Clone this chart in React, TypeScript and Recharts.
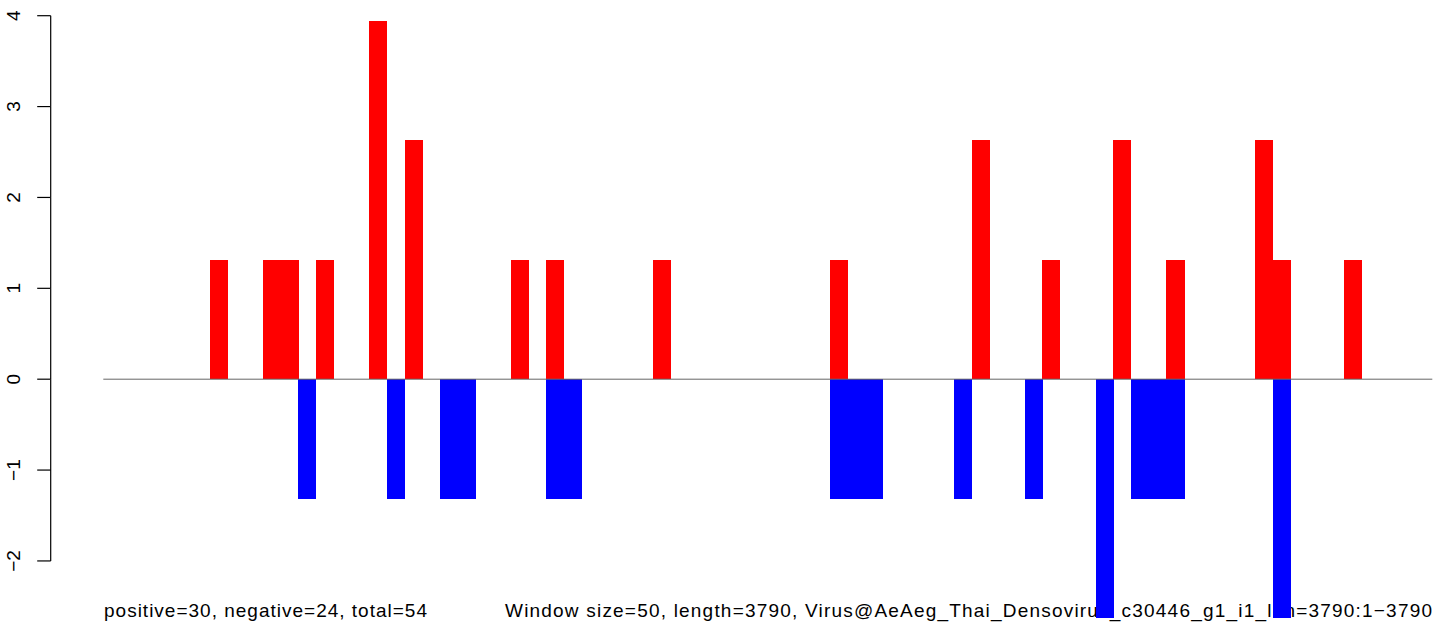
import React from "react";
import { BarChart, Bar, XAxis, YAxis, ReferenceLine } from "recharts";

const windowStarts = [
  1, 51, 101, 151, 201, 251, 301, 351, 401, 451,
  501, 551, 601, 651, 701, 751, 801, 851, 901, 951,
  1001, 1051, 1101, 1151, 1201, 1251, 1301, 1351, 1401, 1451,
  1501, 1551, 1601, 1651, 1701, 1751, 1801, 1851, 1901, 1951,
  2001, 2051, 2101, 2151, 2201, 2251, 2301, 2351, 2401, 2451,
  2501, 2551, 2601, 2651, 2701, 2751, 2801, 2851, 2901, 2951,
  3001, 3051, 3101, 3151, 3201, 3251, 3301, 3351, 3401, 3451,
  3501, 3551, 3601, 3651, 3701,
];

const positiveValues = [
  0, 0, 0, 0, 0, 0, 1.316, 0, 0, 1.316,
  1.316, 0, 1.316, 0, 0, 3.947, 0, 2.632, 0, 0,
  0, 0, 0, 1.316, 0, 1.316, 0, 0, 0, 0,
  0, 1.316, 0, 0, 0, 0, 0, 0, 0, 0,
  0, 1.316, 0, 0, 0, 0, 0, 0, 0, 2.632,
  0, 0, 0, 1.316, 0, 0, 0, 2.632, 0, 0,
  1.316, 0, 0, 0, 0, 2.632, 1.316, 0, 0, 0,
  1.316, 0, 0, 0, 0,
];

const negativeValues = [
  0, 0, 0, 0, 0, 0, 0, 0, 0, 0,
  0, -1.316, 0, 0, 0, 0, -1.316, 0, 0, -1.316,
  -1.316, 0, 0, 0, 0, -1.316, -1.316, 0, 0, 0,
  0, 0, 0, 0, 0, 0, 0, 0, 0, 0,
  0, -1.316, -1.316, -1.316, 0, 0, 0, 0, -1.316, 0,
  0, 0, -1.316, 0, 0, 0, -2.632, 0, -1.316, -1.316,
  -1.316, 0, 0, 0, 0, 0, -2.632, 0, 0, 0,
  0, 0, 0, 0, 0,
];

const yTicks = [-2, -1, 0, 1, 2, 3, 4];
const Y_MIN = -2.64;
const Y_MAX = 4;

const footerLeft = "positive=30, negative=24, total=54";
const footerRight =
  "Window size=50, length=3790, Virus@AeAeg_Thai_Densovirus_c30446_g1_i1_len=3790:1\u22123790";

const data = windowStarts.map((s, i) => ({
  start: s,
  pos: positiveValues[i],
  neg: negativeValues[i],
}));

const W = 1444;
const H = 625;
const MARGIN = { top: 15.7, right: 11.7, bottom: 5.9, left: 0 };
const YAXIS_W = 103.3;
const PLOT_W = W - MARGIN.left - MARGIN.right - YAXIS_W;
const PLOT_H = H - MARGIN.top - MARGIN.bottom;
const PX_PER_UNIT = PLOT_H / (Y_MAX - Y_MIN);
const BAND = PLOT_W / windowStarts.length;
const AXIS_X = 50.7;
const TICK_LEN = 13.5;
const LABEL_X = 20;
const FONT = "'Liberation Sans', Arial, Helvetica, sans-serif";

const fmt = (v: number) => (v < 0 ? "\u2212" + Math.abs(v) : String(v));

const YTick = (props: any) => {
  const { y, payload } = props;
  const v = payload.value as number;
  const maxTick = yTicks[yTicks.length - 1];
  return (
    <g>
      <line x1={AXIS_X - TICK_LEN} y1={y} x2={AXIS_X} y2={y} stroke="#000" strokeWidth={1.2} />
      {v < maxTick && (
        <line x1={AXIS_X} y1={y} x2={AXIS_X} y2={y - PX_PER_UNIT} stroke="#000" strokeWidth={1.2} />
      )}
      <text
        x={LABEL_X}
        y={y}
        transform={`rotate(-90, ${LABEL_X}, ${y})`}
        textAnchor="middle"
        fontFamily={FONT}
        fontSize={19}
        fill="#000"
      >
        {fmt(v)}
      </text>
    </g>
  );
};

// Fill the whole category band (R barplot with space = 0)
const FullBar = (props: any) => {
  const { x, y, width, height, fill } = props;
  if (!height || Math.abs(height) < 0.01) return null;
  const cx = x + width / 2;
  const bw = BAND + 0.3;
  const top = height < 0 ? y + height : y;
  const h = Math.abs(height);
  return <rect x={cx - bw / 2} y={top} width={bw} height={h} fill={fill} shapeRendering="crispEdges" />;
};

export default function App() {
  return (
    <div style={{ position: "absolute", left: 0, top: 0, width: W, height: H, background: "#fff" }}>
      <svg width={W} height={H} style={{ position: "absolute", left: 0, top: 0 }}>
        <text x={104} y={616.5} fontFamily={FONT} fontSize={19} fill="#000" textLength={323} lengthAdjust="spacing">
          {footerLeft}
        </text>
        <text x={505} y={616.5} fontFamily={FONT} fontSize={19} fill="#000" textLength={927} lengthAdjust="spacing">
          {footerRight}
        </text>
      </svg>
      <div style={{ position: "absolute", left: 0, top: 0 }}>
        <BarChart
          width={W}
          height={H}
          data={data}
          margin={MARGIN}
          stackOffset="sign"
          barCategoryGap={0}
          barGap={0}
        >
          <XAxis dataKey="start" type="category" hide />
          <YAxis
            type="number"
            domain={[Y_MIN, Y_MAX]}
            ticks={yTicks}
            width={YAXIS_W}
            axisLine={false}
            tickLine={false}
            tick={<YTick />}
            interval={0}
          />
          <ReferenceLine y={0} stroke="#666" strokeWidth={1} />
          <Bar dataKey="pos" stackId="s" fill="#ff0000" shape={<FullBar />} isAnimationActive={false} />
          <Bar dataKey="neg" stackId="s" fill="#0000ff" shape={<FullBar />} isAnimationActive={false} />
        </BarChart>
      </div>
    </div>
  );
}
